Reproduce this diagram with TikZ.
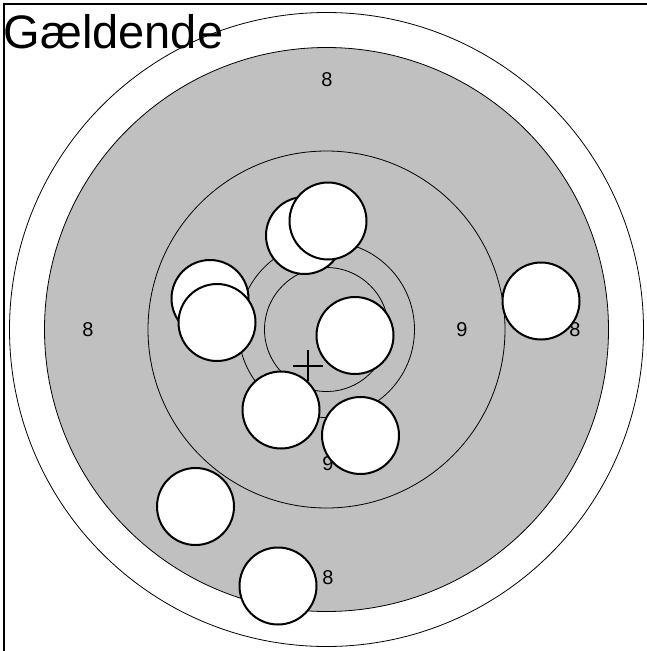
\documentclass[tikz,border=0pt]{standalone}
\usepackage{fontspec}
\setmainfont{Liberation Sans}
\definecolor{ringgray}{HTML}{C0C0C0}
\tikzset{
  ringline/.style={draw=black, line width=0.8pt},
  shot/.style={draw=black, fill=white, line width=2pt},
  score/.style={inner sep=0pt, font=\fontsize{20}{20}\selectfont},
}
\begin{document}
\begin{tikzpicture}[x=1pt,y=-1pt]
\useasboundingbox (0,0) rectangle (647,651);
\fill[white] (0,0) rectangle (647,651);
% frame
\draw[line width=1.6pt] (4,651) -- (4,4) -- (647,4);
% target
\draw[ringline] (326.5,329.5) circle (317);
\draw[ringline, fill=ringgray] (326.5,329.5) circle (282);
\draw[ringline] (326.5,329.5) circle (178.5);
\draw[ringline] (326.5,329.5) circle (88);
\draw[ringline] (326.5,329.5) circle (62);
% title
\node[anchor=base west, inner sep=0pt, font=\fontsize{47}{47}\selectfont] (title) at (3.5,48.5) {Gældende};
% scores
\node[score] (s8t) at (327,80) {8};
\node[score] (s8l) at (88,330) {8};
\node[score] (s9r) at (462,330) {9};
\node[score] (s8r) at (575,330) {8};
\node[score] (s9b) at (328,464) {9};
\node[score] (s8b) at (328,578) {8};
% aiming cross
\draw[line width=1.2pt] (308,350) -- (308,381);
\draw[line width=1.2pt] (293,366) -- (323,366);
% shots
\draw[shot] (304.5,235.5) circle (38.5);
\draw[shot] (328,221) circle (38.5);
\draw[shot] (210,298.5) circle (38.5);
\draw[shot] (217,322.5) circle (38.5);
\draw[shot] (355,335.5) circle (38.5);
\draw[shot] (541,301) circle (38.5);
\draw[shot] (281,410) circle (38.5);
\draw[shot] (360.5,435.5) circle (38.5);
\draw[shot] (195.5,506.5) circle (38.5);
\draw[shot] (278,586) circle (38.5);
\end{tikzpicture}
\end{document}
